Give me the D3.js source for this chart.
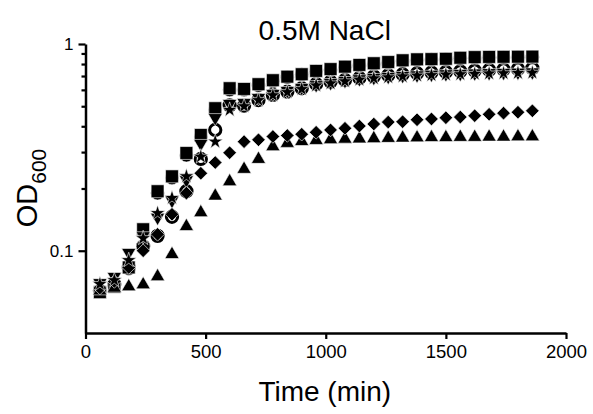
<!DOCTYPE html>
<html>
<head>
<meta charset="utf-8">
<script src="https://cdn.jsdelivr.net/npm/d3@7"></script>
<style>
  html, body { margin: 0; padding: 0; background: #fff; }
  svg { display: block; }
  text { font-family: "Liberation Sans", Arial, sans-serif; fill: #000; }
</style>
</head>
<body>
<svg id="chart" width="593" height="414"></svg>
<script>
// ---- Data ----
const times = [60,120,180,240,300,360,420,480,540,600,660,720,780,840,900,960,1020,1080,1140,1200,1260,1320,1380,1440,1500,1560,1620,1680,1740,1800,1860];

const openCircle = [0.064,0.069,0.083,0.105,0.118,0.146,0.194,0.278,0.384,0.505,0.503,0.536,0.567,0.588,0.611,0.641,0.657,0.670,0.685,0.697,0.706,0.714,0.722,0.728,0.732,0.738,0.743,0.749,0.753,0.757,0.763];
const filledCircle = [0.064,0.068,0.082,0.105,0.190,0.225,0.290,0.355,0.480,0.600,0.600,0.630,0.660,0.690,0.710,0.735,0.750,0.770,0.785,0.800,0.810,0.825,0.835,0.840,0.843,0.850,0.855,0.858,0.860,0.861,0.862];
const square = [0.063,0.067,0.083,0.127,0.194,0.229,0.297,0.363,0.489,0.611,0.606,0.639,0.668,0.695,0.714,0.741,0.756,0.777,0.792,0.807,0.818,0.834,0.843,0.845,0.848,0.858,0.864,0.866,0.867,0.868,0.869];
const triUp = [0.064,0.066,0.067,0.0685,0.075,0.096,0.131,0.153,0.184,0.216,0.248,0.277,0.319,0.331,0.338,0.342,0.345,0.347,0.348,0.349,0.350,0.351,0.352,0.353,0.353,0.354,0.354,0.355,0.355,0.356,0.356];
const triDown = [0.070,0.075,0.098,0.118,0.145,0.175,0.220,0.330,0.440,0.515,0.520,0.550,0.575,0.595,0.615,0.635,0.650,0.665,0.678,0.688,0.696,0.703,0.708,0.713,0.717,0.720,0.723,0.726,0.728,0.730,0.732];
const diamond = [0.066,0.071,0.083,0.100,0.120,0.150,0.190,0.237,0.267,0.298,0.337,0.344,0.357,0.361,0.366,0.374,0.384,0.391,0.401,0.410,0.419,0.421,0.430,0.434,0.440,0.443,0.450,0.457,0.463,0.468,0.475];
const star = [0.069,0.072,0.090,0.115,0.152,0.180,0.229,0.285,0.337,0.480,0.500,0.535,0.565,0.585,0.605,0.630,0.645,0.660,0.672,0.682,0.690,0.697,0.703,0.707,0.711,0.714,0.717,0.720,0.722,0.724,0.726];

const xTicks = [0, 500, 1000, 1500, 2000];
const yMajorTicks = [0.1, 1];
const yMajorLabels = ["0.1", "1"];
const yMinorTicks = [0.2, 0.3, 0.4, 0.5, 0.6, 0.7, 0.8, 0.9];

const titleText = "0.5M NaCl";
const xLabel = "Time (min)";

// ---- Layout ----
const svg = d3.select("#chart");
const plotLeft = 85.5, plotRight = 566, plotTop = 44, plotBottom = 333;

const x = d3.scaleLinear().domain([0, 2000]).range([plotLeft, plotRight]);
const y = d3.scaleLog().domain([0.04, 1]).range([plotBottom, plotTop]);

// Series draw order (bottom to top)
const series = [
  { name: "openCircle", values: openCircle, type: d3.symbolCircle, size: 100, rot: 0, open: true },
  { name: "filledCircle", values: filledCircle, type: d3.symbolCircle, size: 150, rot: 0 },
  { name: "square", values: square, type: d3.symbolSquare, size: 166, rot: 0 },
  { name: "triUp", values: triUp, type: d3.symbolTriangle, size: 88, rot: 0 },
  { name: "triDown", values: triDown, type: d3.symbolTriangle, size: 88, rot: 180 },
  { name: "diamond", values: diamond, type: d3.symbolSquare, size: 92, rot: 45 },
  { name: "star", values: star, type: d3.symbolStar, size: 72, rot: 0 }
];

const marks = svg.append("g");
series.forEach(s => {
  const path = d3.symbol().type(s.type).size(s.size)();
  marks.append("g").attr("class", s.name)
    .selectAll("path")
    .data(times.map((t, i) => ({ t, v: s.values[i] })))
    .join("path")
    .attr("d", path)
    .attr("transform", d => `translate(${x(d.t)},${y(d.v)}) rotate(${s.rot})`)
    .attr("fill", s.open ? "none" : "#000")
    .attr("stroke", s.open ? "#000" : "#fff")
    .attr("stroke-width", s.open ? 3 : 0.6);
});

// ---- Axes ----
const xAxis = svg.append("g")
  .attr("transform", `translate(0,${plotBottom})`)
  .call(d3.axisBottom(x).tickValues(xTicks).tickFormat(d3.format("d")).tickSize(6).tickSizeOuter(0).tickPadding(6));
xAxis.select(".domain").attr("stroke-width", 2.5).attr("stroke", "#000");
xAxis.selectAll(".tick line").attr("stroke-width", 2.2).attr("stroke", "#000");
xAxis.selectAll(".tick text").attr("font-size", 18.5).attr("font-family", "Liberation Sans, Arial, sans-serif").attr("fill", "#000");

const yMinor = svg.append("g")
  .attr("transform", `translate(${plotLeft},0)`)
  .call(d3.axisLeft(y).tickValues(yMinorTicks).tickFormat("").tickSize(4).tickSizeOuter(0));
yMinor.select(".domain").remove();
yMinor.selectAll(".tick line").attr("stroke-width", 2.2).attr("stroke", "#000");

const yAxis = svg.append("g")
  .attr("transform", `translate(${plotLeft},0)`)
  .call(d3.axisLeft(y).tickValues(yMajorTicks).tickFormat((d, i) => yMajorLabels[i]).tickSize(7).tickSizeOuter(0).tickPadding(5));
yAxis.select(".domain").attr("stroke-width", 2.5).attr("stroke", "#000");
yAxis.selectAll(".tick line").attr("stroke-width", 2.2).attr("stroke", "#000");
yAxis.selectAll(".tick text").attr("font-size", 17).attr("font-family", "Liberation Sans, Arial, sans-serif").attr("fill", "#000");

// ---- Titles ----
svg.append("text")
  .attr("x", (plotLeft + plotRight) / 2 - 1)
  .attr("y", 40)
  .attr("text-anchor", "middle")
  .attr("font-size", 28)
  .text(titleText);

svg.append("text")
  .attr("x", (plotLeft + plotRight) / 2 - 1)
  .attr("y", 401)
  .attr("text-anchor", "middle")
  .attr("font-size", 28)
  .text(xLabel);

const yl = svg.append("text")
  .attr("transform", "translate(36.5,188) rotate(-90)")
  .attr("text-anchor", "middle")
  .attr("font-size", 29);
yl.append("tspan").text("OD");
yl.append("tspan").attr("font-size", 21).attr("dy", 9).text("600");
</script>
</body>
</html>
